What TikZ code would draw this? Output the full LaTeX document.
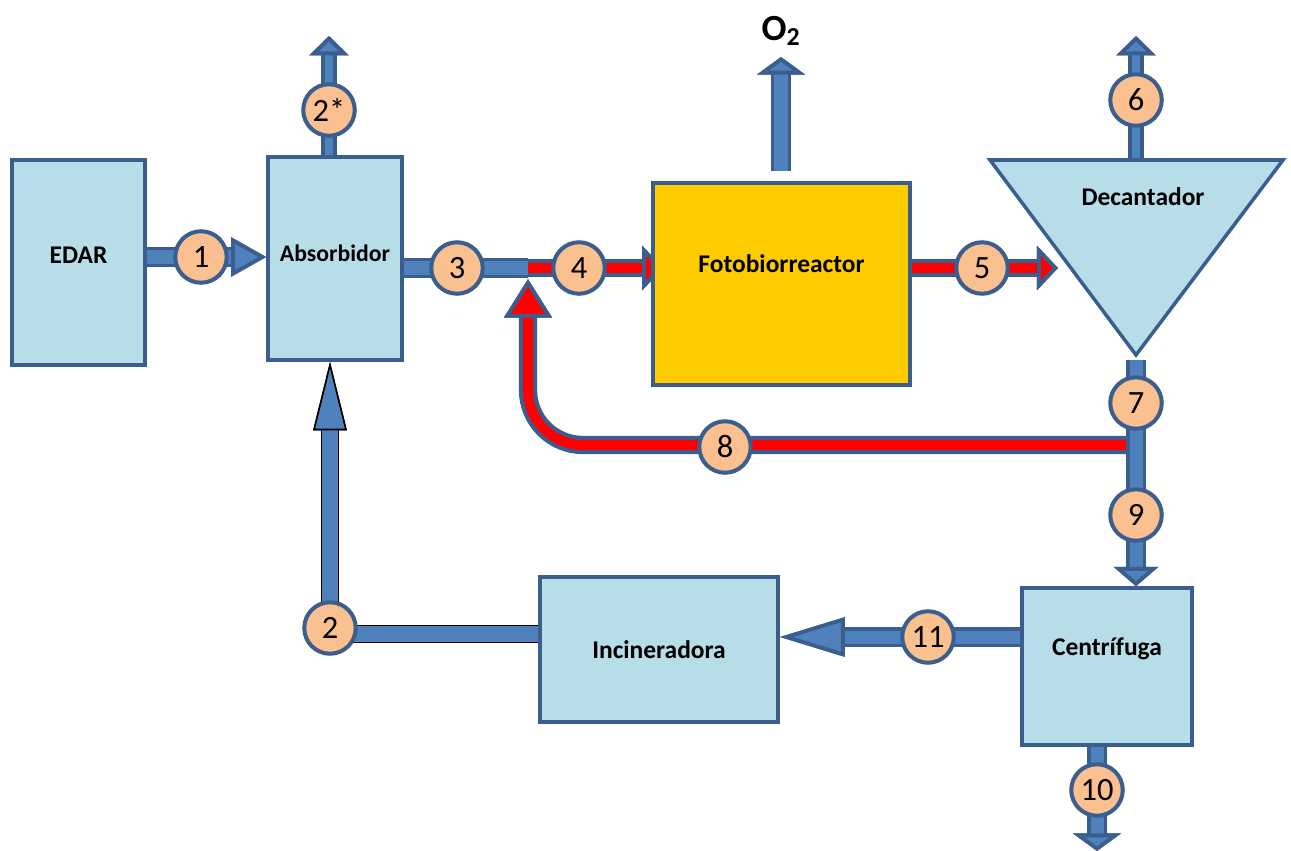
\documentclass[tikz,border=0pt]{standalone}
\usepackage{fontspec}
\setmainfont{Carlito}
\usepackage{tikz}
\usetikzlibrary{arrows.meta}
\pgfdeclarelayer{background}
\pgfsetlayers{background,main}

\definecolor{boxfill}{HTML}{B7DEE8}
\definecolor{boxline}{HTML}{3A5F8E}
\definecolor{pipefill}{HTML}{4F81BD}
\definecolor{pipeline}{HTML}{3A5F8E}
\definecolor{streamfill}{HTML}{FAC090}
\definecolor{reactorfill}{HTML}{FFCC00}

\tikzset{
    box/.style={draw=boxline, line width=2pt, fill=boxfill, inner sep=0pt,
        font=\bfseries\fontsize{14.5}{17}\selectfont},
    stream/.style={circle, draw=pipeline, line width=2.3pt, fill=streamfill,
        minimum size=1.03cm, inner sep=0pt, font=\fontsize{18.5}{18}\selectfont},
    pipe/.style={line width=7.4pt, draw=pipefill,
        preaction={draw=pipeline, line width=11.8pt}},
    thinpipe/.style={line width=5pt, draw=pipefill,
        preaction={draw=pipeline, line width=8.8pt}},
    redpipe/.style={line width=5.7pt, draw=red,
        preaction={draw=pipeline, line width=10.4pt}},
    blackpipe/.style={line width=9.4pt, draw=pipefill,
        preaction={draw=black, line width=10.8pt}},
    bluehead/.style 2 args={-{Triangle[length=#1,width=#2,fill=pipefill,color=pipeline,line width=2.2pt]}},
    redhead/.style 2 args={-{Triangle[length=#1,width=#2,fill=red,color=pipeline,line width=2.2pt]}},
}

\begin{document}
\begin{tikzpicture}[x=0.02cm, y=-0.02cm]
    \useasboundingbox (0,0) rectangle (1291,851);

    % equipos
    \node[box, minimum width=2.66cm, minimum height=4.1cm, text depth=0.3cm] (edar) at (78.5,262.5) {EDAR};
    \node[box, minimum width=2.68cm, minimum height=4.06cm, text depth=0.2cm,
        font=\bfseries\fontsize{13.5}{16}\selectfont] (abs) at (335,258.5) {Absorbidor};
    \node[box, fill=reactorfill, minimum width=5.14cm, minimum height=4.04cm,
        text depth=0.8cm] (foto) at (781.5,284) {Fotobiorreactor};
    \node[box, minimum width=4.76cm, minimum height=2.9cm] (inc) at (659,649.5) {Incineradora};
    \node[box, minimum width=3.4cm, minimum height=3.14cm, text depth=0.8cm] (cen) at (1107,666.5) {Centrífuga};
    \draw[draw=boxline, line width=2pt, fill=boxfill, line join=miter]
        (990,160) -- (1283,160) -- (1136,355) -- cycle;
    \node[font=\bfseries\fontsize{14.5}{17}\selectfont] (dec) at (1143,197) {Decantador};
    \coordinate (dectop) at (1136,160);
    \coordinate (decbot) at (1136,360);

    \node[font=\bfseries\fontsize{21}{21}\selectfont] (o2) at (781,31) {O\textsubscript{2}};

    % puntos libres
    \coordinate (out2s) at (329,36);
    \coordinate (out6) at (1136,36);
    \coordinate (outO2) at (781,57);
    \coordinate (out10) at (1097,851);
    \coordinate (decin) at (1058,268);
    \coordinate (j34) at (528,268);
    \coordinate (j78) at (1136,445);
    \coordinate (c2) at (330,634);

    % corrientes
    \node[stream] (s1) at (201,257) {1};
    \node[stream] (s2s) at (329,110) {2*};
    \node[stream] (s3) at (457,268) {3};
    \node[stream] (s4) at (579,268) {4};
    \node[stream] (s5) at (982,268) {5};
    \node[stream] (s6) at (1136,100) {6};
    \node[stream] (s7) at (1136,403) {7};
    \node[stream] (s8) at (725,447) {8};
    \node[stream] (s9) at (1136,515) {9};
    \node[stream] (s10) at (1097,790) {10};
    \node[stream] (s11) at (928,637) {11};
    \node[stream] (s2) at (330,628) {2};

    \begin{pgfonlayer}{background}
        \draw[pipe, bluehead={20pt}{22pt}] (edar.east |- s1) -- (abs.west |- s1);
        \draw[thinpipe, bluehead={11pt}{22pt}] (abs.north -| s2s) -- (out2s);
        \draw[pipe] (abs.east |- s3) -- (j34);
        \draw[redpipe, redhead={12pt}{25pt}] (j34) -- ([xshift=0.24cm]foto.west |- s4);
        \draw[redpipe, redhead={12pt}{25pt}] (foto.east |- s5) -- (decin);
        \draw[pipe, line width=8.5pt, preaction={line width=12.5pt}, bluehead={10pt}{27pt}]
            ([yshift=0.2cm]foto.north -| outO2) -- (outO2);
        \draw[thinpipe, bluehead={11pt}{22pt}] (dectop) -- (out6);
        \draw[redpipe, redhead={22pt}{27pt}, rounded corners=1.1cm]
            (j78) -- (j78 -| j34) -- ([yshift=-0.22cm]j34);
        \draw[pipe, bluehead={11pt}{25pt}] (decbot) -- (cen.north -| decbot);
        \draw[pipe, bluehead={10pt}{27pt}] (cen.south -| s10) -- (out10);
        \draw[pipe, bluehead={37pt}{22pt}] (cen.west |- s11) -- (inc.east |- s11);
        \draw[blackpipe, -{Triangle[length=39pt,width=19pt,fill=pipefill,color=black,line width=0.9pt]}]
            (inc.west |- c2) -- (c2) -- (abs.south -| c2);
    \end{pgfonlayer}
\end{tikzpicture}
\end{document}
